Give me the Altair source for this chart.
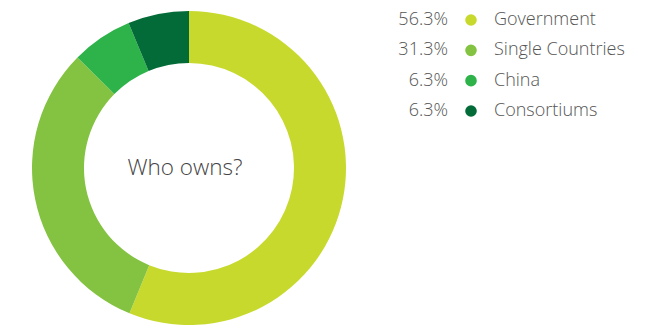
import altair as alt
import pandas as pd

categories = ["Government", "Single Countries", "China", "Consortiums"]
values = [56.3, 31.3, 6.3, 6.3]
labels = ["56.3%", "31.3%", "6.3%", "6.3%"]
colors = ["#c8d92e", "#84c341", "#2db34a", "#036b37"]
center_label = ["Who owns?"]

df = pd.DataFrame({
    "category": categories,
    "value": values,
    "label": labels,
    "order": list(range(len(categories))),
})

color = alt.Color("category:N", scale=alt.Scale(domain=categories, range=colors), legend=None)

donut = alt.Chart(df).mark_arc(innerRadius=105, outerRadius=157, stroke=None).encode(
    theta=alt.Theta("value:Q", stack=True),
    order=alt.Order("order:Q"),
    color=color,
    x=alt.value(181),
    y=alt.value(160),
)

center = alt.Chart(pd.DataFrame({"t": center_label})).mark_text(
    font="Open Sans", fontSize=22.5, fontWeight=300, color="#444444", align="center", baseline="middle"
).encode(text="t:N", x=alt.value(177), y=alt.value(160))

ypos = alt.Y("category:N", sort=categories, axis=None,
             scale=alt.Scale(type="point", range=[12, 103], padding=0))

pct = alt.Chart(df).mark_text(
    font="Open Sans", fontSize=18, fontWeight=300, color="#555555", align="right", baseline="middle"
).encode(text="label:N", y=ypos, x=alt.value(440))

dots = alt.Chart(df).mark_circle(size=135, opacity=1).encode(
    y=ypos, x=alt.value(463), color=color
)

names = alt.Chart(df).mark_text(
    font="Open Sans", fontSize=18, fontWeight=300, color="#555555", align="left", baseline="middle"
).encode(text="category:N", y=ypos, x=alt.value(486))

chart = alt.layer(donut, center, pct, dots, names).properties(
    width=652, height=319, autosize=alt.AutoSizeParams(type="none"), padding=0
).configure_view(stroke=None)

chart.save("out.html", embed_options={"renderer": "svg", "actions": False})
